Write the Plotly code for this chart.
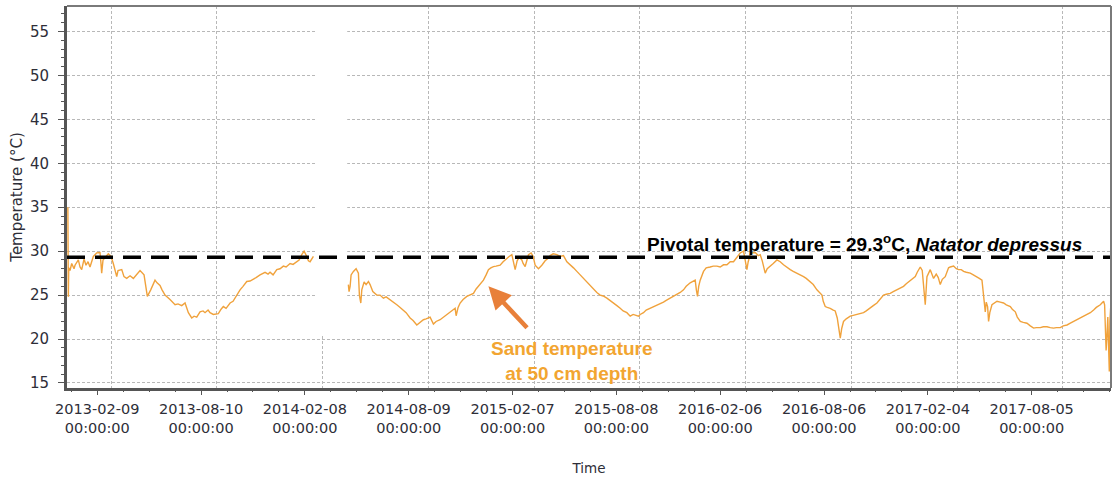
import pandas as pd
import plotly.graph_objects as go

# Sand temperature logger, 50 cm depth (days since logger start)
LOGGER_START = "2012-11-25"
RECORD_DAYS = 1797

days_2012_2014 = [1.5, 2.3, 3.0, 5.2, 8.1, 12.1, 13.8, 19.5, 22.4, 25.3, 29.3, 32.7, 36.2, 39.6,
                  45.3, 51.1, 56.8, 58.5, 59.7, 62.0, 65.4, 71.1, 75.8, 79.7, 85.6, 87.8, 94.2,
                  98.1, 102.8, 108.5, 114.2, 118.8, 125.7, 132.6, 136.0, 138.3, 144.1, 151.5,
                  155.0, 160.1, 163.6, 168.7, 177.3, 186.0, 191.1, 197.5, 203.2, 208.9, 214.7,
                  218.7, 223.3, 229.0, 234.2, 237.6, 242.8, 246.2, 251.9, 260.5, 265.2, 269.1,
                  273.8, 280.7, 285.8, 291.0, 297.9, 303.0, 309.4, 315.1, 320.8, 325.4, 332.3,
                  340.9, 346.1, 349.5, 354.7, 361.1, 366.7, 372.4, 377.1, 384.0, 389.1, 395.5,
                  399.5, 404.1, 408.1, 412.7, 415.5, 418.4, 424.1]
temp_2012_2014 = [35.0, 24.8, 28.1, 27.8, 28.6, 28.0, 28.4, 29.0, 28.2, 27.9, 29.1, 28.4, 28.8, 28.2,
                  29.4, 29.8, 29.85, 28.6, 27.5, 29.0, 29.3, 29.7, 29.4, 28.6, 27.1, 27.8, 27.9,
                  27.1, 26.9, 27.2, 26.9, 27.3, 27.8, 27.3, 26.0, 24.85, 25.6, 26.7,
                  26.4, 26.1, 25.6, 25.0, 24.5, 23.9, 24.0, 23.8, 24.1, 23.0, 22.4,
                  22.6, 22.5, 23.1, 23.2, 23.0, 23.3, 23.0, 22.8, 22.9, 23.4, 23.7,
                  23.5, 24.1, 24.3, 24.9, 25.6, 26.0, 26.55, 26.6, 26.8, 27.0, 27.3,
                  27.6, 27.4, 27.6, 27.3, 27.9, 28.0, 28.3, 28.2, 28.6, 28.5, 28.8,
                  29.0, 29.6, 30.0, 29.4, 28.9, 28.8, 29.4]

days_2014_2017 = [484.3, 485.5, 487.3, 489.0, 493.0, 497.6, 501.6, 503.3, 505.7, 507.4, 511.4, 514.8,
                  518.8, 521.7, 526.4, 533.2, 538.9, 544.6, 549.3, 556.1, 561.3, 567.7, 573.4,
                  579.0, 583.7, 590.6, 595.7, 602.1, 607.8, 613.5, 618.1, 625.0, 630.7, 635.3,
                  642.2, 650.8, 659.4, 668.1, 669.8, 673.2, 676.7, 681.8, 688.2, 693.9, 699.6,
                  704.2, 708.2, 712.8, 716.8, 721.4, 725.4, 729.5, 734.0, 738.6, 745.5, 750.7,
                  757.1, 761.0, 765.7, 767.9, 771.4, 774.8, 778.3, 782.9, 785.1, 788.6, 792.0,
                  794.3, 798.9, 802.4, 805.8, 811.5, 817.3, 823.0, 828.2, 831.6, 836.8, 843.2,
                  848.8, 854.5, 860.4, 866.1, 871.8, 877.6, 883.3, 888.4, 894.8, 900.5, 906.2,
                  912.0, 917.7, 922.9, 929.3, 934.9, 940.6, 946.5, 952.2, 957.3, 963.7, 969.4,
                  974.5, 978.0, 983.7, 986.6, 992.3, 996.9, 1003.8, 1009.0, 1015.3, 1021.0,
                  1026.7, 1031.4, 1038.2, 1043.4, 1049.8, 1055.5, 1061.2, 1065.8, 1072.7,
                  1077.8, 1081.3, 1083.3, 1085.3, 1087.3, 1089.9, 1095.6, 1100.2, 1107.1,
                  1112.3, 1118.6, 1124.3, 1130.0, 1135.9, 1141.6, 1147.2, 1151.9, 1158.8,
                  1164.5, 1167.4, 1170.3, 1172.5, 1176.0, 1179.4, 1184.6, 1189.8, 1193.2,
                  1196.7, 1201.8, 1205.3, 1210.4, 1215.6, 1222.0, 1227.6, 1233.3, 1238.0,
                  1244.9, 1250.0, 1256.4, 1262.1, 1267.8, 1272.4, 1279.3, 1284.5, 1290.8,
                  1294.8, 1299.5, 1301.7, 1305.1, 1308.6, 1313.7, 1318.9, 1322.3, 1325.8,
                  1328.0, 1331.0, 1333.5, 1336.6, 1341.3, 1348.2, 1353.3, 1359.7, 1365.4,
                  1371.1, 1375.7, 1382.6, 1387.8, 1394.1, 1399.8, 1405.5, 1410.2, 1417.0,
                  1422.2, 1428.6, 1434.3, 1439.9, 1444.6, 1451.5, 1454.9, 1460.1, 1463.5,
                  1468.7, 1472.1, 1474.7, 1477.3, 1479.0, 1480.2, 1485.9, 1489.4, 1491.6,
                  1496.2, 1499.7, 1503.1, 1506.6, 1511.7, 1517.4, 1520.3, 1526.0, 1530.7,
                  1534.6, 1539.3, 1543.3, 1547.9, 1554.8, 1560.0, 1566.3, 1570.3, 1574.9,
                  1576.3, 1577.7, 1579.2, 1580.6, 1582.3, 1584.6, 1586.3, 1588.4, 1592.1,
                  1596.1, 1600.8, 1606.4, 1612.1, 1616.8, 1623.7, 1627.1, 1632.3, 1635.7,
                  1640.9, 1646.0, 1652.4, 1658.1, 1663.8, 1668.4, 1675.3, 1680.5, 1686.8,
                  1692.5, 1698.2, 1702.9, 1709.7, 1714.9, 1721.3, 1727.0, 1732.7, 1737.3,
                  1744.2, 1749.3, 1755.7, 1761.4, 1767.1, 1771.7, 1778.6, 1784.3, 1786.0,
                  1787.2, 1788.6, 1790.1, 1791.5, 1792.9, 1794.1, 1795.1, 1796.3]
temp_2014_2017 = [26.2, 25.4, 26.0, 27.3, 27.7, 28.0, 27.5, 25.0, 24.1, 25.6, 26.5, 26.2,
                  26.55, 26.2, 25.4, 25.0, 25.0, 24.65, 24.8, 24.5, 24.2, 23.9, 23.6,
                  23.3, 23.0, 22.4, 22.1, 21.6, 21.9, 22.2, 22.3, 22.5, 21.7, 22.0,
                  22.2, 22.6, 23.0, 23.5, 22.65, 23.6, 24.1, 24.5, 24.85, 25.0, 25.2,
                  25.7, 26.0, 26.3, 26.7, 27.3, 27.9, 28.1, 28.25, 28.3, 28.4, 28.8,
                  29.2, 29.4, 29.6, 28.8, 27.9, 28.9, 29.3, 29.0, 28.6, 28.25, 29.0,
                  29.6, 29.8, 29.4, 28.4, 28.0, 28.4, 28.9, 29.2, 29.5, 29.7, 29.6,
                  29.4, 29.5, 28.8, 28.5, 28.1, 27.7, 27.3, 26.9, 26.4, 26.0, 25.6,
                  25.3, 25.0, 24.9, 24.65, 24.4, 24.1, 23.8, 23.5, 23.2, 23.0, 22.6,
                  22.8, 22.7, 22.6, 22.8, 23.0, 23.3, 23.5, 23.7, 23.9, 24.0,
                  24.2, 24.4, 24.65, 24.8, 25.0, 25.3, 25.6, 26.0, 26.4,
                  26.6, 26.7, 25.6, 24.85, 26.0, 26.7, 27.7, 28.1, 28.2,
                  28.3, 28.3, 28.2, 28.45, 28.45, 28.8, 28.8, 29.2, 29.8,
                  30.0, 29.0, 27.9, 28.8, 29.6, 29.8, 29.85, 29.5, 29.6,
                  28.9, 27.5, 28.0, 28.25, 28.6, 29.0, 28.8, 28.45, 28.2,
                  27.9, 27.7, 27.5, 27.3, 27.1, 26.9, 26.55, 26.2, 25.6,
                  25.3, 25.0, 24.3, 23.7, 23.6, 23.5, 23.3, 23.2, 22.4,
                  21.4, 20.1, 21.2, 22.0, 22.3, 22.6, 22.7, 22.8, 22.9,
                  23.0, 23.2, 23.5, 23.8, 24.1, 24.6, 25.0, 25.1, 25.2,
                  25.4, 25.6, 25.8, 26.0, 26.3, 26.7, 26.9, 27.1, 27.6,
                  28.2, 27.8, 25.5, 23.9, 25.8, 27.1, 27.9, 27.3, 26.9,
                  27.4, 27.0, 26.2, 26.8, 27.1, 28.1, 28.2, 28.3, 28.0,
                  27.9, 27.9, 27.7, 27.6, 27.5, 27.3, 27.1, 26.9, 26.7,
                  25.8, 25.2, 24.0, 23.1, 24.2, 23.7, 22.0, 23.0, 23.9,
                  24.1, 24.3, 24.2, 24.1, 23.9, 23.7, 23.4, 23.1, 22.5,
                  22.0, 21.9, 21.8, 21.5, 21.25, 21.3, 21.3, 21.4, 21.4,
                  21.3, 21.25, 21.3, 21.3, 21.5, 21.6, 21.8, 22.0, 22.2,
                  22.4, 22.6, 22.8, 23.0, 23.3, 23.6, 23.9, 24.3, 23.9,
                  21.0, 18.7, 20.5, 22.5, 19.0, 16.3, 22.0, 23.5]

PIVOTAL = 29.3  # pivotal temperature, Natator depressus (°C)

TICK_DATES = ["2013-02-09", "2013-08-10", "2014-02-08", "2014-08-09", "2015-02-07",
              "2015-08-08", "2016-02-06", "2016-08-06", "2017-02-04", "2017-08-05"]
TICK_TEXT = [f"{d}<br>00:00:00" for d in TICK_DATES]
LABEL_RANGE = ["2012-12-18", "2017-12-22"]

start = pd.Timestamp(LOGGER_START)
to_date = lambda d: start + pd.to_timedelta(d, unit="D")

x_dates = list(to_date(days_2012_2014)) + [None] + list(to_date(days_2014_2017))
y_temps = temp_2012_2014 + [None] + temp_2014_2017

LINE_ORANGE = "#F0A23C"
TEXT_ORANGE = "#F2A531"
ARROW_ORANGE = "#E8803A"
AXIS_GREY = "#555555"
GRID_GREY = "#b8b8b8"
TEXT_DARK = "#2e2e38"
TICK_FONT = "DejaVu Sans, Verdana, sans-serif"
LABEL_FONT = "Liberation Sans, Arial, sans-serif"

fig = go.Figure()
fig.add_trace(go.Scatter(x=x_dates, y=y_temps, mode="lines", connectgaps=False,
                         line=dict(color=LINE_ORANGE, width=1.4),
                         showlegend=False, hoverinfo="x+y"))
# date labels live on an overlaid axis
fig.add_trace(go.Scatter(x=[], y=[], xaxis="x2", showlegend=False))

y_lo, y_hi = 14.43, 57.9

# logger downtime between deployments: blank band over the grid
fig.add_shape(type="rect", layer="between",
              x0=to_date(days_2012_2014[-1] + 3), x1=to_date(days_2014_2017[0] - 2),
              y0=20.5, y1=y_hi, xref="x", yref="y",
              fillcolor="white", line=dict(width=0))

# pivotal temperature reference line
fig.add_hline(y=PIVOTAL, line=dict(color="black", width=3.5, dash="18px,10px"))

# thin frame on top and right
fig.add_shape(type="line", xref="paper", yref="paper", x0=0, x1=1, y0=1, y1=1,
              line=dict(color="#7a7a7a", width=2))
fig.add_shape(type="line", xref="paper", yref="paper", x0=1, x1=1, y0=0, y1=1,
              line=dict(color="#7a7a7a", width=2))

fig.add_annotation(
    text=f"<b>Pivotal temperature = {PIVOTAL}<sup>o</sup>C, <i>Natator depressus</i></b>",
    xref="paper", x=0.554, xanchor="left",
    yref="y", y=PIVOTAL, yanchor="bottom", yshift=0,
    showarrow=False, font=dict(family=LABEL_FONT, size=19, color="black"))

fig.add_annotation(
    text="<b>Sand temperature<br>at 50 cm depth</b>",
    x=to_date(870), y=17.5, xref="x", yref="y",
    xanchor="center", yanchor="middle", showarrow=False,
    font=dict(family=LABEL_FONT, size=19, color=TEXT_ORANGE))

fig.add_annotation(
    text="", x=to_date(725.4), y=26.0, xref="x", yref="y",
    showarrow=True, ax=40, ay=43, arrowhead=2, arrowsize=1, arrowwidth=4.5,
    arrowcolor=ARROW_ORANGE, standoff=0)

fig.update_layout(
    width=1115, height=478,
    margin=dict(l=67, r=4, t=6, b=90),
    paper_bgcolor="white", plot_bgcolor="white",
    font=dict(family=TICK_FONT, color=TEXT_DARK),
    xaxis=dict(type="date", range=[start, to_date(RECORD_DAYS)],
               tickvals=TICK_DATES, showticklabels=False, ticks="",
               showgrid=True, gridcolor=GRID_GREY, gridwidth=1, griddash="3px,2px",
               showline=True, linecolor=AXIS_GREY, linewidth=3, zeroline=False),
    xaxis2=dict(type="date", overlaying="x", anchor="y", side="bottom",
                range=LABEL_RANGE, tickvals=TICK_DATES, ticktext=TICK_TEXT,
                ticks="outside", ticklen=6, tickwidth=1, tickcolor=AXIS_GREY,
                ticklabelstandoff=2,
                minor=dict(ticks="outside", ticklen=3, tickcolor=AXIS_GREY,
                           tick0="2013-02-09", dtick=45.5 * 86400000, showgrid=False),
                showgrid=False, showline=False, zeroline=False,
                tickfont=dict(family=TICK_FONT, size=14.5, color=TEXT_DARK),
                title=dict(text="Time", standoff=28,
                           font=dict(family=TICK_FONT, size=13.5, color=TEXT_DARK))),
    yaxis=dict(range=[y_lo, y_hi], tick0=15, dtick=5,
               ticks="outside", ticklen=6, tickcolor=AXIS_GREY, ticklabelstandoff=6,
               minor=dict(ticks="outside", ticklen=3, tickcolor=AXIS_GREY, dtick=1,
                          showgrid=False),
               showgrid=True, gridcolor=GRID_GREY, gridwidth=1, griddash="3px,2px",
               showline=True, linecolor=AXIS_GREY, linewidth=3, zeroline=False,
               tickfont=dict(family=TICK_FONT, size=15, color=TEXT_DARK),
               title=dict(text="Temperature (°C)", standoff=4,
                          font=dict(family=TICK_FONT, size=15, color=TEXT_DARK))),
)

fig.write_html("out.html")
